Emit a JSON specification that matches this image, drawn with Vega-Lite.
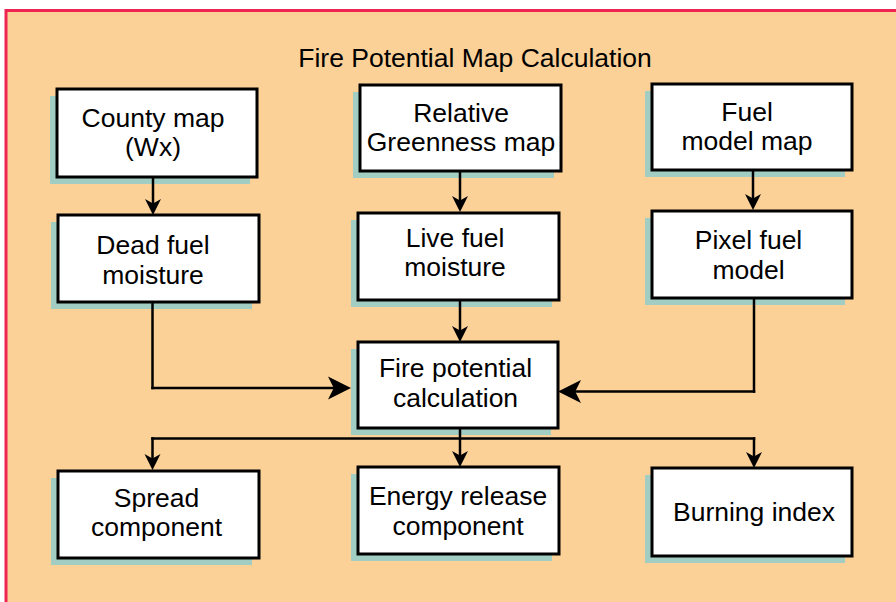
{
  "$schema": "https://vega.github.io/schema/vega-lite/v6.json",
  "width": 896,
  "height": 602,
  "autosize": {"type": "fit", "contains": "padding"},
  "padding": 0,
  "background": "white",
  "config": {"view": {"stroke": null}},
  "datasets": {
    "bg": [{"x": 6, "x2": 1100, "y": 10.5, "y2": 1100}],
    "nodes": [
      {"label": "County map\n(Wx)", "x": 57, "x2": 257, "y": 89, "y2": 177, "cx": 153, "cy": 118.7},
      {"label": "Dead fuel\nmoisture", "x": 58, "x2": 259, "y": 215, "y2": 302, "cx": 153, "cy": 246},
      {"label": "Relative\nGreenness map", "x": 360, "x2": 561, "y": 85, "y2": 171, "cx": 461, "cy": 113.7},
      {"label": "Live fuel\nmoisture", "x": 358, "x2": 559, "y": 213, "y2": 300, "cx": 455, "cy": 238.7},
      {"label": "Fuel\nmodel map", "x": 652, "x2": 852, "y": 84, "y2": 170, "cx": 747, "cy": 112.7},
      {"label": "Pixel fuel\nmodel", "x": 652, "x2": 852, "y": 211, "y2": 298, "cx": 748.5, "cy": 241},
      {"label": "Fire potential\ncalculation", "x": 358, "x2": 558, "y": 342, "y2": 428, "cx": 455.5, "cy": 369},
      {"label": "Spread\ncomponent", "x": 58, "x2": 259, "y": 471, "y2": 558, "cx": 156.5, "cy": 498.7},
      {"label": "Energy release\ncomponent", "x": 358, "x2": 559, "y": 467, "y2": 554, "cx": 458, "cy": 497},
      {"label": "Burning index", "x": 652, "x2": 852, "y": 468, "y2": 556, "cx": 754, "cy": 512.7}
    ],
    "title": [{"label": "Fire Potential Map Calculation", "cx": 475, "cy": 58.7}],
    "segs": [
      {"x": 153, "y": 177, "x2": 153, "y2": 206},
      {"x": 460, "y": 171, "x2": 460, "y2": 203},
      {"x": 753, "y": 170, "x2": 753, "y2": 201},
      {"x": 152.5, "y": 302, "x2": 152.5, "y2": 388},
      {"x": 152.5, "y": 388, "x2": 336, "y2": 388},
      {"x": 460, "y": 300, "x2": 460, "y2": 333},
      {"x": 754, "y": 298, "x2": 754, "y2": 391.5},
      {"x": 754, "y": 391.5, "x2": 574, "y2": 391.5},
      {"x": 460, "y": 428, "x2": 460, "y2": 458},
      {"x": 152.5, "y": 438.5, "x2": 754, "y2": 438.5},
      {"x": 152.5, "y": 438.5, "x2": 152.5, "y2": 461},
      {"x": 754, "y": 438.5, "x2": 754, "y2": 459}
    ],
    "downArrows": [
      {"dir": "down", "x": 153, "y": 207},
      {"dir": "down", "x": 460, "y": 204},
      {"dir": "down", "x": 753, "y": 202},
      {"dir": "down", "x": 460, "y": 334},
      {"dir": "down", "x": 460, "y": 459},
      {"dir": "down", "x": 152.5, "y": 462},
      {"dir": "down", "x": 754, "y": 460}
    ],
    "sideArrows": [
      {"dir": "right", "x": 339.5, "y": 388},
      {"dir": "left", "x": 569.5, "y": 391.5}
    ]
  },
  "layer": [
    {
      "data": {"name": "bg"},
      "mark": {"type": "rect", "fill": "#FBD197", "stroke": "#EE2452", "strokeWidth": 3, "clip": true},
      "encoding": {
        "x": {"field": "x", "type": "quantitative", "scale": {"domain": [0, 896], "nice": false, "zero": false}, "axis": null},
        "x2": {"field": "x2"},
        "y": {"field": "y", "type": "quantitative", "scale": {"domain": [0, 602], "nice": false, "zero": false, "reverse": true}, "axis": null},
        "y2": {"field": "y2"}
      }
    },
    {
      "data": {"name": "nodes"},
      "mark": {"type": "rect", "fill": "#A2CDC3", "xOffset": -7, "x2Offset": -7, "yOffset": 7, "y2Offset": 7},
      "encoding": {
        "x": {"field": "x", "type": "quantitative", "axis": null},
        "x2": {"field": "x2"},
        "y": {"field": "y", "type": "quantitative", "axis": null},
        "y2": {"field": "y2"}
      }
    },
    {
      "data": {"name": "segs"},
      "mark": {"type": "rule", "color": "black", "strokeWidth": 2.5, "strokeCap": "square"},
      "encoding": {
        "x": {"field": "x", "type": "quantitative", "axis": null},
        "x2": {"field": "x2"},
        "y": {"field": "y", "type": "quantitative", "axis": null},
        "y2": {"field": "y2"}
      }
    },
    {
      "data": {"name": "nodes"},
      "mark": {"type": "rect", "fill": "white", "stroke": "black", "strokeWidth": 3},
      "encoding": {
        "x": {"field": "x", "type": "quantitative", "axis": null},
        "x2": {"field": "x2"},
        "y": {"field": "y", "type": "quantitative", "axis": null},
        "y2": {"field": "y2"}
      }
    },
    {
      "data": {"name": "downArrows"},
      "mark": {"type": "point", "filled": true, "size": 256, "color": "black", "opacity": 1, "strokeWidth": 0},
      "encoding": {
        "x": {"field": "x", "type": "quantitative", "axis": null},
        "y": {"field": "y", "type": "quantitative", "axis": null},
        "shape": {"field": "dir", "type": "nominal", "legend": null, "scale": {"domain": ["down", "right", "left"], "range": ["M0,1L-1,-1L0,-0.45L1,-1Z", "M1,0L-1,-1L-0.5,0L-1,1Z", "M-1,0L1,-1L0.5,0L1,1Z"]}}
      }
    },
    {
      "data": {"name": "sideArrows"},
      "mark": {"type": "point", "filled": true, "size": 529, "color": "black", "opacity": 1, "strokeWidth": 0},
      "encoding": {
        "x": {"field": "x", "type": "quantitative", "axis": null},
        "y": {"field": "y", "type": "quantitative", "axis": null},
        "shape": {"field": "dir", "type": "nominal", "legend": null}
      }
    },
    {
      "data": {"name": "nodes"},
      "mark": {"type": "text", "font": "Liberation Sans", "fontSize": 26.5, "lineHeight": 29.5, "lineBreak": "\n", "align": "center", "baseline": "middle", "color": "black"},
      "encoding": {
        "x": {"field": "cx", "type": "quantitative", "axis": null},
        "y": {"field": "cy", "type": "quantitative", "axis": null},
        "text": {"field": "label"}
      }
    },
    {
      "data": {"name": "title"},
      "mark": {"type": "text", "font": "Liberation Sans", "fontSize": 26.5, "align": "center", "baseline": "middle", "color": "black"},
      "encoding": {
        "x": {"field": "cx", "type": "quantitative", "axis": null},
        "y": {"field": "cy", "type": "quantitative", "axis": null},
        "text": {"field": "label"}
      }
    }
  ]
}
